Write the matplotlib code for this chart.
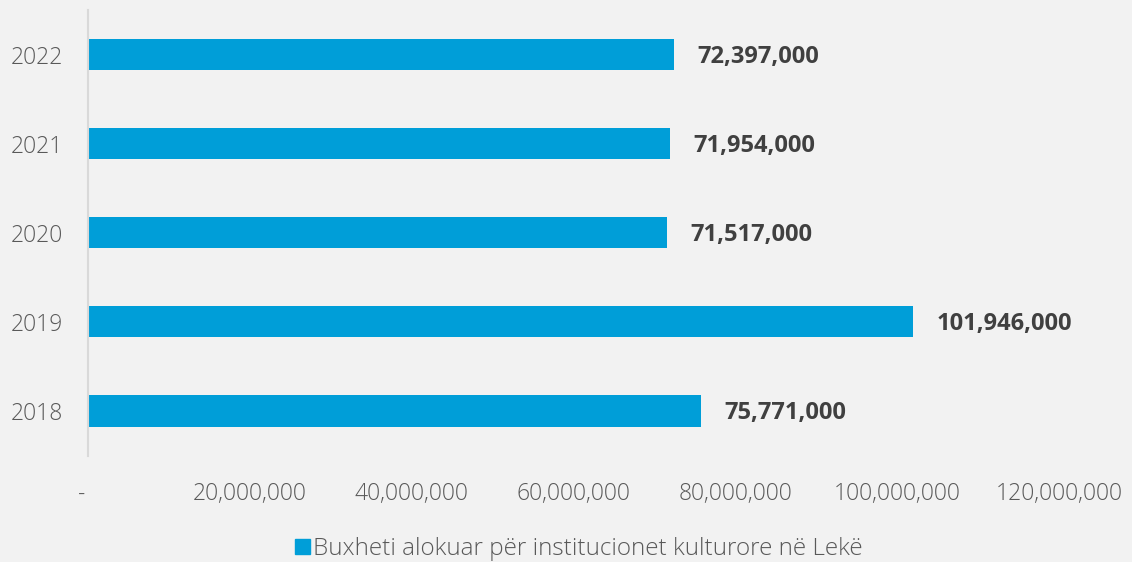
import numpy as np
import matplotlib
matplotlib.use("Agg")
from matplotlib import pyplot as plt
from matplotlib.patches import Patch
from matplotlib.ticker import FuncFormatter

years = ["2018", "2019", "2020", "2021", "2022"]
budget = [75771000, 101946000, 71517000, 71954000, 72397000]
legend_label = "Buxheti alokuar për institucionet kulturore në Lekë"

BG = "#f2f2f2"
BAR = "#009ed8"
TICK = "#595959"
LABEL = "#404040"

plt.rcParams["font.family"] = ["Open Sans", "DejaVu Sans"]

fig = plt.figure(figsize=(11.32, 5.62), dpi=100, facecolor=BG)
ax = fig.add_axes([88 / 1132, 1 - 455.5 / 562, 971 / 1132, 445.5 / 562])
ax.set_facecolor(BG)

y = np.arange(len(years))
ax.barh(y, budget, height=0.35, color=BAR)

for yi, v in zip(y, budget):
    ax.annotate(f"{v:,}", (v, yi), xytext=(17, -1.5), textcoords="offset points",
                ha="left", va="center", fontsize=17, fontweight="bold", color=LABEL)

ax.set_xlim(0, 120000000)
ax.set_ylim(-0.5, len(years) - 0.5)
ax.set_yticks(y)
ax.set_yticklabels(years)
ax.set_xticks(np.arange(0, 120000001, 20000000))
ax.xaxis.set_major_formatter(FuncFormatter(lambda v, p: "-  " if v == 0 else f"{int(v):,}"))

ax.tick_params(axis="both", length=0, labelsize=16.5, colors=TICK)
ax.tick_params(axis="y", pad=18)
ax.tick_params(axis="x", pad=19)
for lab in ax.get_xticklabels() + ax.get_yticklabels():
    lab.set_fontweight("light")

for s in ["top", "right", "bottom"]:
    ax.spines[s].set_visible(False)
ax.spines["left"].set_color("#d9d9d9")
ax.spines["left"].set_linewidth(1.5)

leg = fig.legend(handles=[Patch(color=BAR, label=legend_label)], loc="center",
                 bbox_to_anchor=(579 / 1132, 1 - 549 / 562), frameon=False,
                 fontsize=17.5, handlelength=0.6, handleheight=0.6, handletextpad=0.15)
for t in leg.get_texts():
    t.set_color(TICK)
    t.set_fontweight("light")

fig.savefig("out.png", dpi=100, facecolor=BG)
